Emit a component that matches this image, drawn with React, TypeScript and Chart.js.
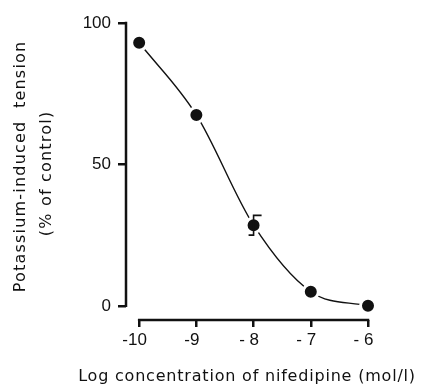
import React, { useEffect, useRef } from 'react';
import { Chart, registerables } from 'chart.js';

Chart.register(...registerables);

// Concentration–response of potassium-induced tension to nifedipine
const logConcentration = [-10, -9, -8, -7, -6];
const tensionPct = [93, 67.5, 28.5, 5, 0];
const tensionSem = [0, 0, 3.5, 0, 0];

const xTickValues = [-10, -9, -8, -7, -6];
const xTickLabels = ['-10', '-9', '- 8', '- 7', '- 6'];
const yTickValues = [0, 50, 100];

const xTitle = 'Log concentration of nifedipine (mol/l)';
const yTitleLines = ['Potassium-induced  tension', '(% of control)'];

const INK = '#111111';
const TICK_FONT = { family: '"Liberation Sans", Arial, sans-serif', size: 17 };
const TITLE_FONT = '16px "DejaVu Sans", sans-serif';

// Axis lines run only between the first and last tick, like a classic
// offset-axis figure.
const axisLinesPlugin = {
  id: 'axisLines',
  afterDraw(chart: any) {
    const { ctx, chartArea, scales } = chart;
    const x = scales.x;
    const y = scales.y;
    ctx.save();
    ctx.strokeStyle = INK;
    ctx.lineWidth = 2.5;
    ctx.lineCap = 'butt';

    const yTop = y.getPixelForValue(yTickValues[yTickValues.length - 1]);
    const yBottom = y.getPixelForValue(yTickValues[0]);
    ctx.beginPath();
    ctx.moveTo(chartArea.left, yTop - 1.25);
    ctx.lineTo(chartArea.left, yBottom + 1.25);
    ctx.stroke();

    const xLeft = x.getPixelForValue(xTickValues[0]);
    const xRight = x.getPixelForValue(xTickValues[xTickValues.length - 1]);
    ctx.beginPath();
    ctx.moveTo(xLeft - 1.25, chartArea.bottom);
    ctx.lineTo(xRight + 1.25, chartArea.bottom);
    ctx.stroke();
    ctx.restore();
  },
};

// Standard-error bar with one cap to each side.
const errorBarPlugin = {
  id: 'errorBars',
  afterDatasetsDraw(chart: any) {
    const { ctx, scales } = chart;
    const x = scales.x;
    const y = scales.y;
    ctx.save();
    ctx.strokeStyle = INK;
    ctx.lineWidth = 1.6;
    logConcentration.forEach((c, i) => {
      const sem = tensionSem[i];
      if (!sem) return;
      const px = x.getPixelForValue(c);
      const top = y.getPixelForValue(tensionPct[i] + sem);
      const bottom = y.getPixelForValue(tensionPct[i] - sem);
      ctx.beginPath();
      ctx.moveTo(px + 8, top);
      ctx.lineTo(px, top);
      ctx.lineTo(px, bottom);
      ctx.lineTo(px - 5, bottom);
      ctx.stroke();
    });
    ctx.restore();
  },
};

// Axis titles with the wide letter spacing of the figure.
const axisTitlesPlugin = {
  id: 'axisTitles',
  afterDraw(chart: any) {
    const { ctx, chartArea, scales } = chart;
    const y = scales.y;
    ctx.save();
    ctx.fillStyle = INK;
    ctx.font = TITLE_FONT;
    ctx.textAlign = 'center';
    ctx.textBaseline = 'middle';

    ctx.letterSpacing = '0.8px';
    ctx.fillText(xTitle, (chartArea.left + chartArea.right) / 2, chartArea.bottom + 57);

    const midY = (y.getPixelForValue(0) + y.getPixelForValue(100)) / 2;
    ctx.letterSpacing = '1.2px';
    ctx.save();
    ctx.translate(21, midY + 2);
    ctx.rotate(-Math.PI / 2);
    ctx.fillText(yTitleLines[0], 0, 0);
    ctx.restore();
    ctx.save();
    ctx.translate(47, midY + 9);
    ctx.rotate(-Math.PI / 2);
    ctx.fillText(yTitleLines[1], 0, 0);
    ctx.restore();
    ctx.restore();
  },
};

export default function App() {
  const canvasRef = useRef<HTMLCanvasElement | null>(null);

  useEffect(() => {
    if (!canvasRef.current) return;
    const chart = new Chart(canvasRef.current, {
      type: 'line',
      data: {
        datasets: [
          {
            data: logConcentration.map((c, i) => ({ x: c, y: tensionPct[i] })),
            borderColor: INK,
            borderWidth: 1.4,
            cubicInterpolationMode: 'monotone',
            pointRadius: 7.5,
            pointHoverRadius: 7.5,
            pointBackgroundColor: INK,
            pointBorderColor: '#ffffff',
            pointBorderWidth: 3,
            clip: false,
          } as any,
        ],
      },
      options: {
        animation: false,
        responsive: false,
        devicePixelRatio: 1,
        events: [],
        layout: { padding: { top: 23, right: 58, bottom: 0, left: 0 } },
        plugins: {
          legend: { display: false },
          tooltip: { enabled: false },
        },
        scales: {
          x: {
            type: 'linear',
            min: -10.23,
            max: -6,
            afterFit(scale: any) {
              scale.height = 65;
            },
            afterBuildTicks(scale: any) {
              scale.ticks = xTickValues.map((v) => ({ value: v }));
            },
            ticks: {
              color: INK,
              font: TICK_FONT,
              padding: 3,
              labelOffset: -4.5,
              maxRotation: 0,
              autoSkip: false,
              callback: (_v: any, i: number) => xTickLabels[i],
            },
            grid: {
              drawOnChartArea: false,
              drawTicks: true,
              tickLength: 7,
              lineWidth: 2.5,
              color: INK,
            },
            border: { display: false },
          },
          y: {
            type: 'linear',
            min: -5,
            max: 100,
            afterFit(scale: any) {
              scale.width = 126;
            },
            afterBuildTicks(scale: any) {
              scale.ticks = yTickValues.map((v) => ({ value: v }));
            },
            ticks: {
              color: INK,
              font: TICK_FONT,
              padding: 7,
              autoSkip: false,
              callback: (v: any) => String(v),
            },
            grid: {
              drawOnChartArea: false,
              drawTicks: true,
              tickLength: 8,
              lineWidth: 2.5,
              color: INK,
            },
            border: { display: false },
          },
        },
      },
      plugins: [axisLinesPlugin, errorBarPlugin, axisTitlesPlugin],
    });
    return () => chart.destroy();
  }, []);

  return (
    <div style={{ position: 'fixed', left: 0, top: 0, width: 426, height: 385, background: '#fff' }}>
      <canvas ref={canvasRef} width={426} height={385} style={{ display: 'block' }} />
    </div>
  );
}
